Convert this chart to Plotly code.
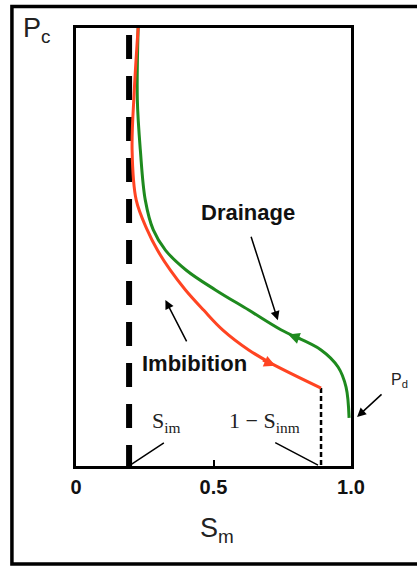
import plotly.graph_objects as go

# ---- data ----
drain_s = [0.226, 0.223, 0.234, 0.252, 0.281, 0.325, 0.401, 0.507, 0.628, 0.745, 0.891, 0.953, 0.982, 0.993]
drain_pc = [1.000, 0.836, 0.721, 0.607, 0.539, 0.493, 0.447, 0.402, 0.356, 0.311, 0.265, 0.226, 0.180, 0.110]

imb_s = [0.226, 0.212, 0.204, 0.219, 0.259, 0.296, 0.343, 0.398, 0.464, 0.533, 0.628, 0.708, 0.891]
imb_pc = [1.000, 0.858, 0.721, 0.607, 0.539, 0.493, 0.447, 0.402, 0.356, 0.311, 0.265, 0.235, 0.178]

s_im = 0.193          # irreducible wetting saturation
s_end = 0.891         # 1 - S_inm
dash_top = 0.984

tick_vals = [0, 0.5, 1.0]
tick_text = ["<b>0</b>", "<b>0.5</b>", "<b>1.0</b>"]

GREEN = "#1E8A1E"
RED = "#FF4422"

fig = go.Figure()

fig.add_trace(go.Scatter(x=[s_im, s_im], y=[dash_top, 0], mode="lines",
                         line=dict(color="black", width=6, dash="24px,17px"),
                         hoverinfo="skip", showlegend=False))
fig.add_trace(go.Scatter(x=[s_end, s_end], y=[imb_pc[-1], 0], mode="lines",
                         line=dict(color="black", width=2.5, dash="5px,3px"),
                         hoverinfo="skip", showlegend=False))
fig.add_trace(go.Scatter(x=drain_s, y=drain_pc, mode="lines",
                         line=dict(color=GREEN, width=3, shape="spline", smoothing=1),
                         showlegend=False))
fig.add_trace(go.Scatter(x=imb_s, y=imb_pc, mode="lines",
                         line=dict(color=RED, width=3, shape="spline", smoothing=1),
                         showlegend=False))

ann = []
ann.append(dict(x=0.772, y=0.300, xref="x", yref="y", ax=14, ay=5, text="",
                showarrow=True, arrowhead=2, arrowsize=0.9, arrowwidth=2.5, arrowcolor=GREEN))
ann.append(dict(x=0.725, y=0.229, xref="x", yref="y", ax=-14, ay=-6, text="",
                showarrow=True, arrowhead=2, arrowsize=0.9, arrowwidth=2.5, arrowcolor=RED))

lab_font = dict(family="Liberation Sans, Arial", size=22, color="#111")
ann.append(dict(x=0.624, y=0.578, xref="x", yref="y", text="<b>Drainage</b>",
                showarrow=False, font=lab_font))
ann.append(dict(x=0.430, y=0.233, xref="x", yref="y", text="<b>Imbibition</b>",
                showarrow=False, font=lab_font))
ann.append(dict(x=0.734, y=0.333, xref="x", yref="y", ax=0.635, ay=0.527, axref="x", ayref="y",
                text="", showarrow=True, arrowhead=2, arrowsize=1.2, arrowwidth=1.5, arrowcolor="black"))
ann.append(dict(x=0.325, y=0.379, xref="x", yref="y", ax=0.405, ay=0.281, axref="x", ayref="y",
                text="", showarrow=True, arrowhead=2, arrowsize=1.2, arrowwidth=1.5, arrowcolor="black"))
ann.append(dict(x=0.197, y=0.002, xref="x", yref="y", ax=0.325, ay=0.055, axref="x", ayref="y",
                text="", showarrow=True, arrowhead=0, arrowwidth=1.5, arrowcolor="black"))
ann.append(dict(x=0.880, y=0.002, xref="x", yref="y", ax=0.719, ay=0.055, axref="x", ayref="y",
                text="", showarrow=True, arrowhead=0, arrowwidth=1.5, arrowcolor="black"))
ann.append(dict(x=1.022, y=0.112, xref="paper", yref="paper", ax=26, ay=-24,
                text="", showarrow=True, arrowhead=2, arrowsize=1.2, arrowwidth=1.5, arrowcolor="black"))

serif = dict(family="Liberation Serif, Times New Roman", size=22, color="#222")
ann.append(dict(x=0.33, y=0.10, xref="x", yref="y", text="S<sub>im</sub>", showarrow=False, font=serif))
ann.append(dict(x=0.686, y=0.10, xref="x", yref="y", text="1 \u2212 S<sub>inm</sub>", showarrow=False, font=serif))

sans = "Liberation Sans, Arial"
ann.append(dict(x=1.215, y=0.168, xref="paper", yref="paper", text="P<sub>d</sub>", showarrow=False,
                font=dict(family=sans, size=16, color="#222")))
ann.append(dict(x=-0.2, y=1.038, xref="paper", yref="paper", text="P<sub>c</sub>", showarrow=False,
                font=dict(family=sans, size=27, color="#222")))
ann.append(dict(x=0.513, y=-0.19, xref="paper", yref="paper", text="S<sub>m</sub>", showarrow=False,
                font=dict(family=sans, size=27, color="#222")))

fig.update_layout(
    width=417, height=567,
    margin=dict(l=76, r=66, t=28, b=101),
    paper_bgcolor="white", plot_bgcolor="white",
    annotations=ann,
    shapes=[dict(type="rect", xref="paper", yref="paper", x0=-0.233, x1=1.4, y0=-0.224, y1=1.049,
                 line=dict(color="black", width=3.5), layer="below")],
    xaxis=dict(range=[0, 1], tickvals=tick_vals, ticktext=tick_text, ticks="inside", ticklen=6,
               tickwidth=2, tickcolor="black", showline=True, mirror=True, linewidth=2.5,
               linecolor="black", showgrid=False, zeroline=False, ticklabelstandoff=1,
               tickfont=dict(family=sans, size=20, color="#111")),
    yaxis=dict(range=[0, 1], showticklabels=False, ticks="", showline=True, mirror=True,
               linewidth=2.5, linecolor="black", showgrid=False, zeroline=False),
)

fig.write_html("out.html", config={"displayModeBar": False},
               post_script="document.body.style.margin='0';")
